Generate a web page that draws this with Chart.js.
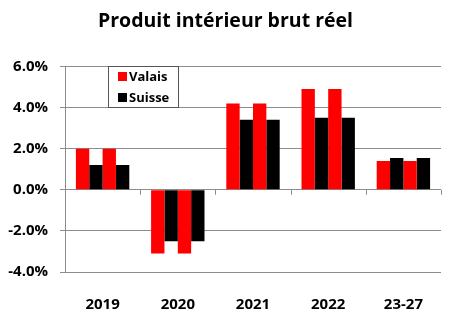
<!DOCTYPE html>
<html lang="fr">
<head>
<meta charset="utf-8" />
<title>PIB réel</title>
<script src="https://cdn.jsdelivr.net/npm/chart.js@4/dist/chart.umd.min.js"></script>
<style>
  html, body { margin: 0; padding: 0; background: #fff; }
  #wrap { width: 451px; height: 323px; position: relative; }
</style>
</head>
<body>
<div id="wrap"><canvas id="pib"></canvas></div>
<script>
  // categories et valeurs (en %)
  var years = ["2019", "2020", "2021", "2022", "23-27"];
  var valaisA = [2.0, -3.1, 4.2, 4.9, 1.4];
  var suisseA = [1.2, -2.5, 3.4, 3.5, 1.55];
  var valaisB = [2.0, -3.1, 4.2, 4.9, 1.4];
  var suisseB = [1.2, -2.5, 3.4, 3.5, 1.55];
  var yTicks = [-4, -2, 0, 2, 4, 6];

  var RED = "#ff0000", BLACK = "#000000", GRID = "#8c8c8c";
  var FONT = "'Open Sans', 'DejaVu Sans', sans-serif";

  // legende dans la zone du graphique + petites graduations sur la ligne du zero
  var extras = {
    id: "extras",
    afterDraw: function (chart) {
      var ctx = chart.ctx, x = chart.scales.x, y = chart.scales.y;
      var y0 = y.getPixelForValue(0);
      ctx.save();
      ctx.strokeStyle = GRID;
      ctx.lineWidth = 1;
      var step = (x.right - x.left) / years.length;
      for (var i = 1; i <= years.length; i++) {
        var px = Math.round(x.left + step * i) + 0.5;
        ctx.beginPath();
        ctx.moveTo(px, y0);
        ctx.lineTo(px, y0 + 5);
        ctx.stroke();
      }
      // legende
      var lx = 108.5, ly = 66.5, lw = 70, lh = 41;
      ctx.fillStyle = "#fff";
      ctx.fillRect(lx, ly, lw, lh);
      ctx.strokeStyle = "#555";
      ctx.strokeRect(lx, ly, lw, lh);
      var items = [chart.data.datasets[0], chart.data.datasets[1]];
      ctx.font = "bold 13px " + FONT;
      ctx.textBaseline = "middle";
      items.forEach(function (ds, k) {
        var cy = 76 + k * 21;
        ctx.fillStyle = ds.backgroundColor;
        ctx.fillRect(118, cy - 4, 9, 9);
        ctx.fillStyle = "#000";
        ctx.fillText(ds.label, 129, cy + 1);
      });
      ctx.restore();
    }
  };

  new Chart(document.getElementById("pib"), {
    type: "bar",
    data: {
      labels: years,
      datasets: [
        { label: "Valais", data: valaisA, backgroundColor: RED },
        { label: "Suisse", data: suisseA, backgroundColor: BLACK },
        { label: "Valais", data: valaisB, backgroundColor: RED },
        { label: "Suisse", data: suisseB, backgroundColor: BLACK }
      ]
    },
    options: {
      responsive: true,
      maintainAspectRatio: false,
      animation: false,
      layout: { padding: 0 },
      datasets: { bar: { barPercentage: 1.0, categoryPercentage: 0.71 } },
      plugins: {
        legend: { display: false },
        tooltip: { enabled: false },
        title: {
          display: true,
          text: "Produit intérieur brut réel",
          color: "#000",
          font: { family: FONT, size: 19.5, weight: "bold", lineHeight: 1.2 },
          padding: { top: 10, bottom: 33 }
        }
      },
      scales: {
        x: {
          grid: { display: false },
          border: { display: false },
          afterFit: function (axis) { axis.height = 51; },
          ticks: { color: "#000", padding: 16, font: { family: FONT, size: 15, weight: "bold" } }
        },
        y: {
          min: -4,
          max: 6,
          afterBuildTicks: function (axis) {
            axis.ticks = yTicks.map(function (v) { return { value: v }; });
          },
          afterFit: function (axis) { axis.width = 65; },
          grid: { color: GRID, tickLength: 5, drawTicks: true },
          border: { display: true, color: GRID },
          ticks: {
            color: "#000",
            padding: 12,
            font: { family: FONT, size: 15, weight: "bold" },
            callback: function (v) { return v.toFixed(1) + "%"; }
          }
        },
        // marge droite vide
        yr: {
          position: "right",
          min: -4,
          max: 6,
          grid: { display: false },
          border: { display: false },
          ticks: { display: false },
          afterFit: function (axis) { axis.width = 10; }
        }
      }
    },
    plugins: [extras]
  });
</script>
</body>
</html>
